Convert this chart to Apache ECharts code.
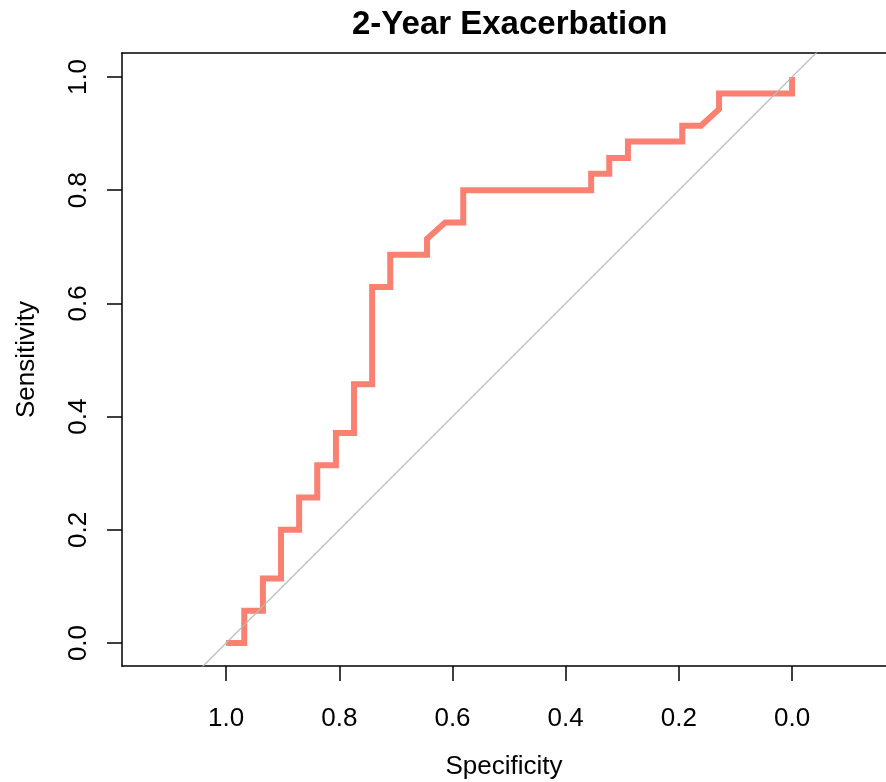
<!DOCTYPE html>
<html>
<head>
<meta charset="utf-8">
<script src="https://cdn.jsdelivr.net/npm/echarts@6/dist/echarts.min.js"></script>
<style>
html,body{margin:0;padding:0;background:#fff;}
#chart{width:886px;height:782px;}
</style>
</head>
<body>
<div id="chart"></div>
<script>
// ROC curve vertices (specificity, sensitivity)
var specificity = [1, 0.968, 0.968, 0.935, 0.935, 0.903, 0.903, 0.871, 0.871, 0.839,
  0.839, 0.806, 0.806, 0.774, 0.774, 0.742, 0.742, 0.710, 0.710, 0.645,
  0.645, 0.613, 0.581, 0.581, 0.355, 0.355, 0.323, 0.323, 0.290, 0.290,
  0.194, 0.194, 0.161, 0.129, 0.129, 0, 0];
var sensitivity = [0, 0, 0.057, 0.057, 0.114, 0.114, 0.2, 0.2, 0.257, 0.257,
  0.314, 0.314, 0.371, 0.371, 0.457, 0.457, 0.629, 0.629, 0.686, 0.686,
  0.714, 0.743, 0.743, 0.8, 0.8, 0.829, 0.829, 0.857, 0.857, 0.886,
  0.886, 0.914, 0.914, 0.943, 0.971, 0.971, 1];
// identity (chance) line
var diagSpec = [1.3, -0.3];
var diagSens = [-0.3, 1.3];
var tickValues = [0, 0.2, 0.4, 0.6, 0.8, 1.0];

var rocData = specificity.map(function (s, i) { return [s, sensitivity[i]]; });
var diagData = diagSpec.map(function (s, i) { return [s, diagSens[i]]; });

var FONT = '"Liberation Sans", Arial, sans-serif';
var X_MIN = -0.166, X_MAX = 1.184;
var chart = echarts.init(document.getElementById('chart'), null, {renderer: 'canvas'});
chart.setOption({
  animation: false,
  backgroundColor: '#ffffff',
  title: {
    text: '2-Year Exacerbation',
    left: 347,
    top: 3,
    textStyle: {fontFamily: FONT, fontSize: 33, fontWeight: 'bold', color: '#000'}
  },
  grid: {
    left: 122, right: 0, top: 53, bottom: 116,
    show: false,
    containLabel: false,
    outerBoundsMode: 'none'
  },
  xAxis: [{
    type: 'value',
    inverse: true,
    position: 'bottom',
    min: X_MIN, max: X_MAX,
    name: 'Specificity',
    nameLocation: 'middle',
    nameGap: 88,
    nameTextStyle: {fontFamily: FONT, fontSize: 26, color: '#000'},
    axisLine: {show: true, onZero: false, lineStyle: {color: '#000', width: 1.5}},
    splitLine: {show: false},
    axisTick: {show: true, inside: false, length: 15, customValues: tickValues,
      lineStyle: {color: '#000', width: 1.5}},
    axisLabel: {show: true, customValues: tickValues, margin: 40,
      fontFamily: FONT, fontSize: 26, color: '#000',
      formatter: function (v) { return v.toFixed(1); }}
  }, {
    type: 'value',
    inverse: true,
    position: 'top',
    min: X_MIN, max: X_MAX,
    axisLine: {show: true, onZero: false, lineStyle: {color: '#000', width: 1.5}},
    splitLine: {show: false},
    axisTick: {show: false},
    axisLabel: {show: false}
  }],
  yAxis: {
    type: 'value',
    position: 'left',
    min: -0.0406, max: 1.0424,
    name: 'Sensitivity',
    nameLocation: 'middle',
    nameRotate: 90,
    nameGap: 82,
    nameTextStyle: {fontFamily: FONT, fontSize: 26, color: '#000'},
    axisLine: {show: true, onZero: false, lineStyle: {color: '#000', width: 1.5}},
    splitLine: {show: false},
    axisTick: {show: true, inside: false, length: 15, customValues: tickValues,
      lineStyle: {color: '#000', width: 1.5}},
    axisLabel: {show: true, customValues: tickValues, rotate: 90, margin: 30,
      fontFamily: FONT, fontSize: 26, color: '#000',
      formatter: function (v) { return v.toFixed(1); }}
  },
  series: [
    {
      type: 'line',
      xAxisIndex: 0,
      data: rocData,
      showSymbol: false,
      symbol: 'none',
      clip: true,
      z: 2,
      lineStyle: {color: '#FA8072', width: 6, cap: 'butt', join: 'miter'}
    },
    {
      type: 'line',
      xAxisIndex: 0,
      data: diagData,
      showSymbol: false,
      symbol: 'none',
      clip: true,
      z: 3,
      lineStyle: {color: '#b8b8b8', width: 1.2}
    }
  ]
});
</script>
</body>
</html>
